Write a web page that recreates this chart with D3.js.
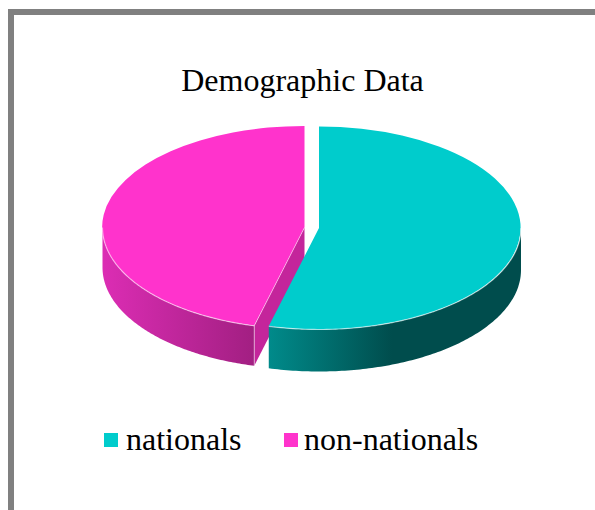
<!DOCTYPE html>
<html><head><meta charset="utf-8">
<script src="https://cdn.jsdelivr.net/npm/d3@7/dist/d3.min.js"></script>
<style>html,body{margin:0;padding:0;background:#fff;overflow:hidden}svg{display:block}text{font-family:"Liberation Serif",serif;fill:#000}</style>
</head><body>
<script>
const title = "Demographic Data";
const categories = ["nationals", "non-nationals"];
const values = [54, 46];
const colors = ["#00cccc", "#ff33cc"];

const W = 595, H = 510, rx = 202, ry = 101.5;
const depths = [42, 40];
const centers = [[319, 228], [304.5, 227.5]];
const svg = d3.select("body").append("svg").attr("width", W).attr("height", H);

// frame
svg.append("path").attr("d", `M11,${H}V12H${W}`).attr("fill", "none").attr("stroke", "#808080").attr("stroke-width", 6);

svg.append("text").attr("x", 302.5).attr("y", 91).attr("text-anchor", "middle").attr("font-size", 32).text(title);

const defs = svg.append("defs");
function grad(id, x1, x2, stops) {
  const g = defs.append("linearGradient").attr("id", id).attr("gradientUnits", "userSpaceOnUse")
    .attr("x1", x1).attr("x2", x2).attr("y1", 0).attr("y2", 0);
  stops.forEach(s => g.append("stop").attr("offset", s[0]).attr("stop-color", s[1]));
}
grad("wall0", 270, 392, [[0, "#008a8a"], [1, "#004d4d"]]);
grad("wall1", 102, 254, [[0, "#dc2db4"], [1, "#a21f82"]]);

const arcs = d3.pie().sort(null).value(d => d)(values);
const arcGen = d3.arc().innerRadius(0).outerRadius(1);
const px = (c, a) => c[0] + rx * Math.sin(a);
const py = (c, a) => c[1] - ry * Math.cos(a);

// draw non-nationals first; nationals overlaps its cut face
[1, 0].forEach(i => {
  const a = arcs[i], c = centers[i], depth = depths[i];
  const wall = d3.area().x(d => d.x).y0(d => d.y).y1(d => d.y + depth);
  const from = Math.max(a.startAngle, Math.PI / 2), to = Math.min(a.endAngle, 3 * Math.PI / 2);
  const pts = d3.range(0, 121).map(k => {
    const t = from + (to - from) * k / 120;
    return { x: px(c, t), y: py(c, t) };
  });
  if (i === 1) {
    const ex = px(c, a.startAngle), ey = py(c, a.startAngle);
    svg.append("path").attr("fill", "#c4259b")
      .attr("d", d3.line()([[c[0], c[1]], [ex, ey], [ex, ey + depth], [c[0], c[1] + depth]]));
  }
  svg.append("path").attr("fill", `url(#wall${i})`).attr("d", wall(pts));
  svg.append("path")
    .attr("transform", `translate(${c[0]},${c[1]}) scale(${rx},${ry})`)
    .attr("fill", colors[i]).attr("d", arcGen(a));
  // light rim along the front edge
  svg.append("path").attr("fill", "none").attr("stroke", "#fff").attr("stroke-opacity", 0.55).attr("stroke-width", 1.2)
    .attr("d", d3.line().x(d => d.x).y(d => d.y)(pts));
  if (i === 1) {
    const ex = px(c, a.startAngle), ey = py(c, a.startAngle);
    svg.append("path").attr("fill", "none").attr("stroke", "#fff").attr("stroke-opacity", 0.5).attr("stroke-width", 1)
      .attr("d", d3.line()([[c[0], c[1]], [ex, ey], [ex, ey + depth]]));
  }
});

// legend
const legendX = [104, 284], legendTextX = [126, 304];
categories.forEach((name, i) => {
  svg.append("rect").attr("x", legendX[i]).attr("y", 433).attr("width", 14).attr("height", 14).attr("fill", colors[i]);
  svg.append("text").attr("x", legendTextX[i]).attr("y", 450).attr("font-size", 32).text(name);
});
</script>
</body></html>
